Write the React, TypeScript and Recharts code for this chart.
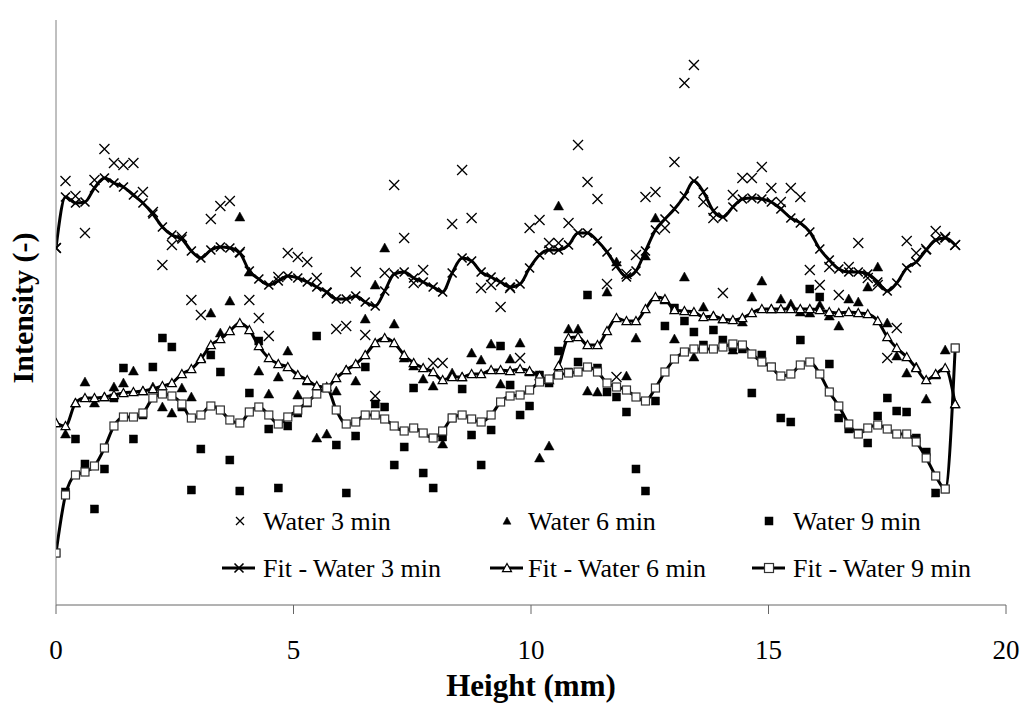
import { Legend, Line, LineChart, XAxis, YAxis } from 'recharts'

// height along the sample (mm)
const heights = [
  0, 0.2, 0.41, 0.61, 0.81, 1.02, 1.22, 1.42, 1.63, 1.83,
  2.04, 2.24, 2.44, 2.65, 2.85, 3.05, 3.26, 3.46, 3.66, 3.87,
  4.07, 4.27, 4.48, 4.68, 4.88, 5.09, 5.29, 5.49, 5.7, 5.9,
  6.11, 6.31, 6.51, 6.72, 6.92, 7.12, 7.33, 7.53, 7.73, 7.94,
  8.14, 8.34, 8.55, 8.75, 8.95, 9.16, 9.36, 9.56, 9.77, 9.97,
  10.18, 10.38, 10.58, 10.79, 10.99, 11.19, 11.4, 11.6, 11.8, 12.01,
  12.21, 12.41, 12.62, 12.82, 13.02, 13.23, 13.43, 13.63, 13.84, 14.04,
  14.25, 14.45, 14.65, 14.86, 15.06, 15.26, 15.47, 15.67, 15.87, 16.08,
  16.28, 16.48, 16.69, 16.89, 17.09, 17.3, 17.5, 17.7, 17.91, 18.11,
  18.32, 18.52, 18.72, 18.93,
]

// measured intensity (arbitrary units)
const water3 = [
  355, 422, 407, 370, 423, 454, 440, 438, 440, 411,
  391, 338, 358, 366, 303, 288, 384, 397, 402, 351,
  303, 285, 267, 326, 350, 346, 341, 325, 310, 274,
  277, 331, 268, 207, 330, 418, 365, 320, 333, 240,
  240, 379, 433, 385, 315, 318, 296, 315, 245, 375,
  383, 360, 360, 380, 458, 421, 404, 319, 226, 329,
  348, 406, 411, 375, 441, 520, 538, 401, 385, 310,
  408, 425, 425, 436, 415, 401, 415, 406, 333, 318,
  336, 308, 336, 360, 325, 318, 245, 275, 362, 350,
  354, 372, 366, 358,
]
const water6 = [
  180, 169, 200, 221, 200, 206, 216, 220, 232, 212,
  216, 196, 190, 215, 206, 245, 290, 270, 302, 386,
  331, 232, 209, 226, 252, 208, 222, 165, 169, 212,
  233, 222, 284, 318, 355, 279, 245, 237, 224, 217,
  159, 230, 226, 250, 243, 259, 219, 244, 260, 231,
  145, 157, 397, 274, 274, 212, 211, 311, 341, 227,
  265, 347, 385, 303, 264, 326, 246, 296, 287, 284,
  253, 281, 306, 322, 294, 304, 299, 291, 290, 298,
  287, 277, 304, 301, 316, 336, 280, 247, 230, 236,
  204, 228, 253, 199,
]
const water9 = [
  50, 111, 164, 139, 94, 134, 205, 235, 164, 188,
  236, 265, 256, 196, 113, 154, 248, 231, 143, 112,
  210, 262, 174, 115, 177, 190, 200, 267, 215, 158,
  110, 167, 236, 199, 196, 138, 156, 215, 130, 115,
  166, 185, 214, 168, 138, 173, 257, 218, 188, 197,
  228, 220, 252, 231, 241, 308, 235, 211, 206, 191,
  134, 112, 202, 277, 295, 282, 271, 258, 273, 263,
  256, 254, 210, 248, 236, 185, 181, 263, 314, 306,
  239, 185, 174, 170, 160, 187, 205, 192, 191, 165,
  151, 110, 114, 255,
]

// fitted curves
const fit3 = [
  355, 406, 400, 401, 415, 425, 420, 416, 408, 400,
  389, 376, 368, 364, 352, 345, 353, 356, 355, 350,
  332, 324, 318, 322, 327, 325, 321, 316, 311, 304,
  304, 307, 301, 297, 312, 329, 331, 325, 321, 316,
  311, 330, 345, 342, 331, 326, 321, 316, 319, 335,
  348, 353, 353, 358, 370, 370, 362, 351, 337, 326,
  332, 352, 373, 384, 394, 407, 422, 411, 392, 386,
  396, 404, 405, 404, 401, 394, 385, 380, 371, 354,
  343, 334, 331, 331, 329, 321, 312, 320, 335, 341,
  353, 363, 365, 358,
]
const fit6 = [
  180, 177, 200, 205, 205, 206, 208, 210, 211, 212,
  214, 217, 220, 229, 234, 244, 258, 264, 272, 280,
  273, 257, 245, 239, 236, 228, 223, 217, 216, 225,
  233, 239, 248, 260, 265, 260, 248, 240, 235, 231,
  223, 226, 226, 229, 229, 233, 233, 232, 234, 232,
  227, 223, 237, 265, 266, 258, 258, 272, 285, 282,
  282, 294, 306, 304, 293, 292, 291, 286, 287, 284,
  283, 285, 290, 294, 294, 294, 294, 294, 294, 293,
  291, 290, 291, 290, 289, 282, 266, 255, 246, 235,
  223, 229, 235, 199,
]
const fit9 = [
  50, 108, 128, 131, 137, 155, 177, 186, 186, 190,
  205, 209, 207, 199, 185, 188, 197, 193, 183, 180,
  191, 196, 188, 179, 186, 193, 201, 209, 215, 193,
  179, 181, 188, 188, 184, 177, 172, 175, 170, 165,
  172, 185, 188, 184, 181, 188, 201, 207, 208, 213,
  221, 224, 228, 230, 231, 236, 231, 220, 216, 213,
  206, 202, 215, 231, 244, 251, 254, 254, 254, 256,
  259, 258, 249, 241, 236, 227, 229, 238, 241, 229,
  211, 197, 179, 169, 175, 178, 174, 169, 169, 161,
  145, 127, 114, 255,
]

const rows = heights.map((h, i) => ({
  h,
  w3: water3[i],
  w6: water6[i],
  w9: water9[i],
  f3: fit3[i],
  f6: fit6[i],
  f9: fit9[i],
}))

const FONT = '"Liberation Serif", "Times New Roman", serif'

type Shape = 'cross' | 'triangle' | 'square'

function marker(shape: Shape, cx: number, cy: number, hollow: boolean, s: number, key?: any) {
  if (shape === 'cross') {
    const r = s / 2
    return (
      <path key={key} d={`M${cx - r},${cy - r}L${cx + r},${cy + r}M${cx - r},${cy + r}L${cx + r},${cy - r}`}
        stroke='#000' strokeWidth={hollow ? 1.6 : 1.3} fill='none' />
    )
  }
  if (shape === 'triangle') {
    const r = s / 2
    return (
      <polygon key={key} points={`${cx},${cy - r} ${cx + r},${cy + r * 0.8} ${cx - r},${cy + r * 0.8}`}
        fill={hollow ? '#fff' : '#000'} stroke='#000' strokeWidth={hollow ? 1.2 : 0.5} />
    )
  }
  const r = s / 2
  return (
    <rect key={key} x={cx - r} y={cy - r} width={s} height={s}
      fill={hollow ? '#fff' : '#000'} stroke={hollow ? '#333' : '#000'} strokeWidth={hollow ? 1.2 : 0.5} />
  )
}

const makeDot = (shape: Shape, hollow: boolean, size: number) => (p: any) => {
  if (p.cx == null || p.cy == null) return <g key={p.index} />
  return marker(shape, p.cx, p.cy, hollow, size, p.index)
}

const legendItems = [
  { label: 'Water 3 min', shape: 'cross' as Shape, fit: false, cx: 240, cy: 521, tx: 263 },
  { label: 'Water 6 min', shape: 'triangle' as Shape, fit: false, cx: 507, cy: 521, tx: 528 },
  { label: 'Water 9 min', shape: 'square' as Shape, fit: false, cx: 769, cy: 521, tx: 793 },
  { label: 'Fit - Water 3 min', shape: 'cross' as Shape, fit: true, cx: 239, cy: 568, tx: 263 },
  { label: 'Fit - Water 6 min', shape: 'triangle' as Shape, fit: true, cx: 507, cy: 568, tx: 528 },
  { label: 'Fit - Water 9 min', shape: 'square' as Shape, fit: true, cx: 769, cy: 568, tx: 793 },
]

const renderLegend = () => (
  <svg width={1029} height={713} style={{ display: 'block' }}>
    {legendItems.map((it) => (
      <g key={it.label}>
        {it.fit && <line x1={it.cx - 17} x2={it.cx + 16} y1={it.cy} y2={it.cy} stroke='#000' strokeWidth={3} />}
        {marker(it.shape, it.cx, it.cy, it.fit, it.fit ? 9 : 8)}
        <text x={it.tx} y={it.cy + 9} fontFamily={FONT} fontSize={26} fill='#000'>{it.label}</text>
      </g>
    ))}
  </svg>
)

const YTitle = () => (
  <text x={22} y={308} transform='rotate(-90 22 308)' textAnchor='middle' dominantBaseline='central'
    fontFamily={FONT} fontSize={30} fontWeight='bold' fill='#000'>Intensity (-)</text>
)

const App = () => {
  return (
    <div style={{ position: 'absolute', left: 0, top: 0, background: '#fff' }}>
      <LineChart width={1029} height={713} data={rows}
        margin={{ top: 20, right: 23, bottom: 0, left: 0 }} style={{ fontFamily: FONT }}>
        <XAxis dataKey='h' type='number' domain={[0, 20]} ticks={[0, 5, 10, 15, 20]} allowDataOverflow
          height={108} tickSize={9} tickMargin={26}
          axisLine={{ stroke: '#666' }} tickLine={{ stroke: '#666' }}
          tick={{ fontSize: 27, fill: '#000', fontFamily: FONT }}
          label={{ value: 'Height (mm)', position: 'insideBottom', offset: 17, fontSize: 31, fontWeight: 'bold', fill: '#000', fontFamily: FONT }} />
        <YAxis type='number' domain={[-2, 583]} allowDataOverflow width={56}
          tick={false} tickLine={false} axisLine={{ stroke: '#808080' }}
          label={<YTitle />} />
        <Legend layout='horizontal' verticalAlign='middle' align='center' content={renderLegend}
          wrapperStyle={{ left: 0, top: 0, width: 1029, height: 713, pointerEvents: 'none' }} />
        <Line dataKey='w3' stroke='none' dot={makeDot('cross', false, 10)} activeDot={false} legendType='none' isAnimationActive={false} />
        <Line dataKey='w6' stroke='none' dot={makeDot('triangle', false, 10)} activeDot={false} legendType='none' isAnimationActive={false} />
        <Line dataKey='w9' stroke='none' dot={makeDot('square', false, 8)} activeDot={false} legendType='none' isAnimationActive={false} />
        <Line type='monotone' dataKey='f3' stroke='#000' strokeWidth={3} dot={makeDot('cross', true, 9)} activeDot={false} isAnimationActive={false} />
        <Line type='monotone' dataKey='f6' stroke='#000' strokeWidth={3} dot={makeDot('triangle', true, 9)} activeDot={false} isAnimationActive={false} />
        <Line type='monotone' dataKey='f9' stroke='#000' strokeWidth={3} dot={makeDot('square', true, 8)} activeDot={false} isAnimationActive={false} />
      </LineChart>
    </div>
  )
}

export default App
